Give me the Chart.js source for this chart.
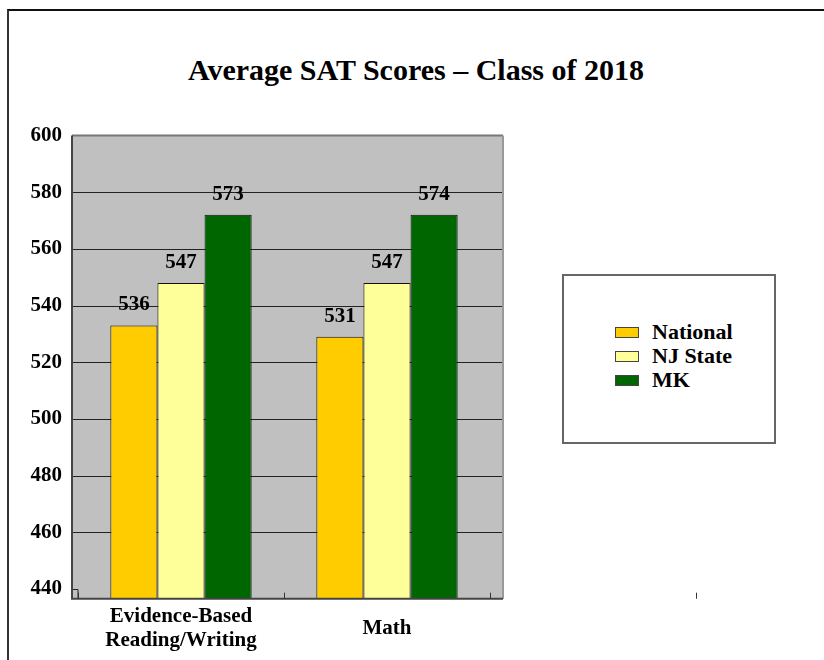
<!DOCTYPE html>
<html>
<head>
<meta charset="utf-8">
<title>Average SAT Scores – Class of 2018</title>
<script src="https://cdn.jsdelivr.net/npm/chart.js@4.4.1/dist/chart.umd.min.js"></script>
<style>
    body { margin: 0; background: #fff; }
    #wrap { position: relative; width: 824px; height: 660px; overflow: hidden; }
    #frame {
        position: absolute; left: 7px; top: 9px; width: 830px; height: 660px;
        border-top: 2px solid #111; border-left: 2px solid #333;
    }
    #chart { position: absolute; left: 0; top: 0; }
    #title {
        position: absolute; left: 4px; top: 55px; width: 824px; text-align: center;
        font: bold 30px/30px "Liberation Serif", serif; color: #000;
    }
    #legend {
        position: absolute; left: 562px; top: 274px; width: 210px; height: 166px;
        border: 2px solid #666; background: #fff;
        font: bold 22px "Liberation Serif", serif; color: #000;
    }
    #legend ul { list-style: none; margin: 0; padding: 0; position: absolute; left: 51px; top: 44px; }
    #legend li { height: 24px; line-height: 24px; display: flex; align-items: center; }
    #legend span.box {
        display: inline-block; width: 24px; height: 11px; border: 1px solid #444;
        margin-right: 13px; box-sizing: border-box;
    }
</style>
</head>
<body>
<div id="wrap">
    <div id="frame"></div>
    <div id="title">Average SAT Scores – Class of 2018</div>
    <canvas id="chart" width="824" height="660"></canvas>
    <div id="legend"></div>
</div>
<script>
// Categories and series
const categories = [['Evidence-Based', 'Reading/Writing'], 'Math'];
const seriesNames = ['National', 'NJ State', 'MK'];
const seriesColors = ['#FFCC00', '#FFFF99', '#006600'];

// Bar heights as drawn in the source picture
const nationalValues = [533, 529];
const njStateValues = [548, 548];
const mkValues = [572, 572];

// Numbers printed above the bars
const nationalLabels = [536, 531];
const njStateLabels = [547, 547];
const mkLabels = [573, 574];

// Y axis
const yTicks = [440, 460, 480, 500, 520, 540, 560, 580, 600];
const yMin = 436.6;
const yMax = 600;

const seriesValues = [nationalValues, njStateValues, mkValues];
const seriesLabels = [nationalLabels, njStateLabels, mkLabels];

const FONT = '"Liberation Serif", "Times New Roman", serif';

// Grey plot area, gridlines and frame (the plot area is a little wider than the axis)
const plotFrame = {
    id: 'plotFrame',
    beforeDatasetsDraw(chart) {
        const { ctx, chartArea, scales } = chart;
        const left = chartArea.left - 6;
        const right = chartArea.right + 13;
        ctx.save();
        ctx.fillStyle = '#C0C0C0';
        ctx.fillRect(left, chartArea.top, right - left, chartArea.bottom - chartArea.top);
        ctx.strokeStyle = '#222';
        ctx.lineWidth = 1;
        yTicks.forEach(v => {
            if (v === yMax) return;
            const y = Math.round(scales.y.getPixelForValue(v)) + 0.5;
            ctx.beginPath();
            if (v === yTicks[0]) {
                ctx.moveTo(left, y);
                ctx.lineTo(chartArea.left, y);
                ctx.lineTo(chartArea.left, chartArea.bottom);
            } else {
                ctx.moveTo(left, y);
                ctx.lineTo(right, y);
            }
            ctx.stroke();
        });
        ctx.restore();
    },
    afterDatasetsDraw(chart) {
        const { ctx, chartArea } = chart;
        const left = chartArea.left - 6;
        const right = chartArea.right + 13;
        ctx.save();
        // frame
        ctx.lineWidth = 2;
        ctx.strokeStyle = '#777';
        ctx.beginPath();
        ctx.moveTo(left, chartArea.top);
        ctx.lineTo(right, chartArea.top);
        ctx.stroke();
        ctx.strokeStyle = '#999';
        ctx.beginPath();
        ctx.moveTo(right, chartArea.top);
        ctx.lineTo(right, chartArea.bottom);
        ctx.stroke();
        ctx.strokeStyle = '#444';
        ctx.beginPath();
        ctx.moveTo(left, chartArea.top);
        ctx.lineTo(left, chartArea.bottom);
        ctx.lineTo(right, chartArea.bottom);
        ctx.stroke();
        // small category ticks pointing up from the axis
        const n = categories.length;
        const step = (chartArea.right - chartArea.left) / n;
        ctx.lineWidth = 1;
        ctx.strokeStyle = '#333';
        for (let i = 0; i <= n + 1; i++) {
            const x = Math.round(chartArea.left + i * step) + 0.5;
            ctx.beginPath();
            ctx.moveTo(x, chartArea.bottom);
            ctx.lineTo(x, chartArea.bottom - 6);
            ctx.stroke();
        }
        // value labels
        ctx.fillStyle = '#000';
        ctx.font = 'bold 21px ' + FONT;
        ctx.textAlign = 'center';
        ctx.textBaseline = 'bottom';
        chart.data.datasets.forEach((ds, di) => {
            chart.getDatasetMeta(di).data.forEach((bar, i) => {
                ctx.fillText(String(seriesLabels[di][i]), bar.x, bar.y - 10);
            });
        });
        ctx.restore();
    }
};

const chart = new Chart(document.getElementById('chart'), {
    type: 'bar',
    data: {
        labels: categories,
        datasets: seriesNames.map((name, i) => ({
            label: name,
            data: seriesValues[i],
            backgroundColor: seriesColors[i],
            borderColor: '#111',
            borderWidth: 1,
            borderSkipped: 'start',
            categoryPercentage: 0.686,
            barPercentage: 1.0
        }))
    },
    options: {
        responsive: false,
        animation: false,
        layout: { padding: { left: 8, right: 334, top: 135.5, bottom: 0 } },
        scales: {
            x: {
                grid: { display: false },
                border: { display: false },
                ticks: {
                    color: '#000',
                    font: { family: FONT, size: 21, weight: 'bold', lineHeight: 1.12 },
                    padding: 10,
                    maxRotation: 0,
                    crossAlign: 'center'
                },
                afterFit: scale => { scale.height = 61.3; }
            },
            y: {
                min: yMin,
                max: yMax,
                grid: { display: false },
                border: { display: false },
                ticks: {
                    color: '#000',
                    font: { family: FONT, size: 21, weight: 'bold' },
                    padding: 8
                },
                afterBuildTicks: scale => { scale.ticks = yTicks.map(v => ({ value: v })); },
                afterFit: scale => { scale.width = 70; }
            }
        },
        plugins: {
            legend: { display: false },
            tooltip: { enabled: false },
            title: { display: false }
        }
    },
    plugins: [plotFrame]
});

// Legend built from the datasets
const ul = document.createElement('ul');
chart.data.datasets.forEach(ds => {
    const li = document.createElement('li');
    const box = document.createElement('span');
    box.className = 'box';
    box.style.background = ds.backgroundColor;
    li.appendChild(box);
    li.appendChild(document.createTextNode(ds.label));
    ul.appendChild(li);
});
document.getElementById('legend').appendChild(ul);
</script>
</body>
</html>
